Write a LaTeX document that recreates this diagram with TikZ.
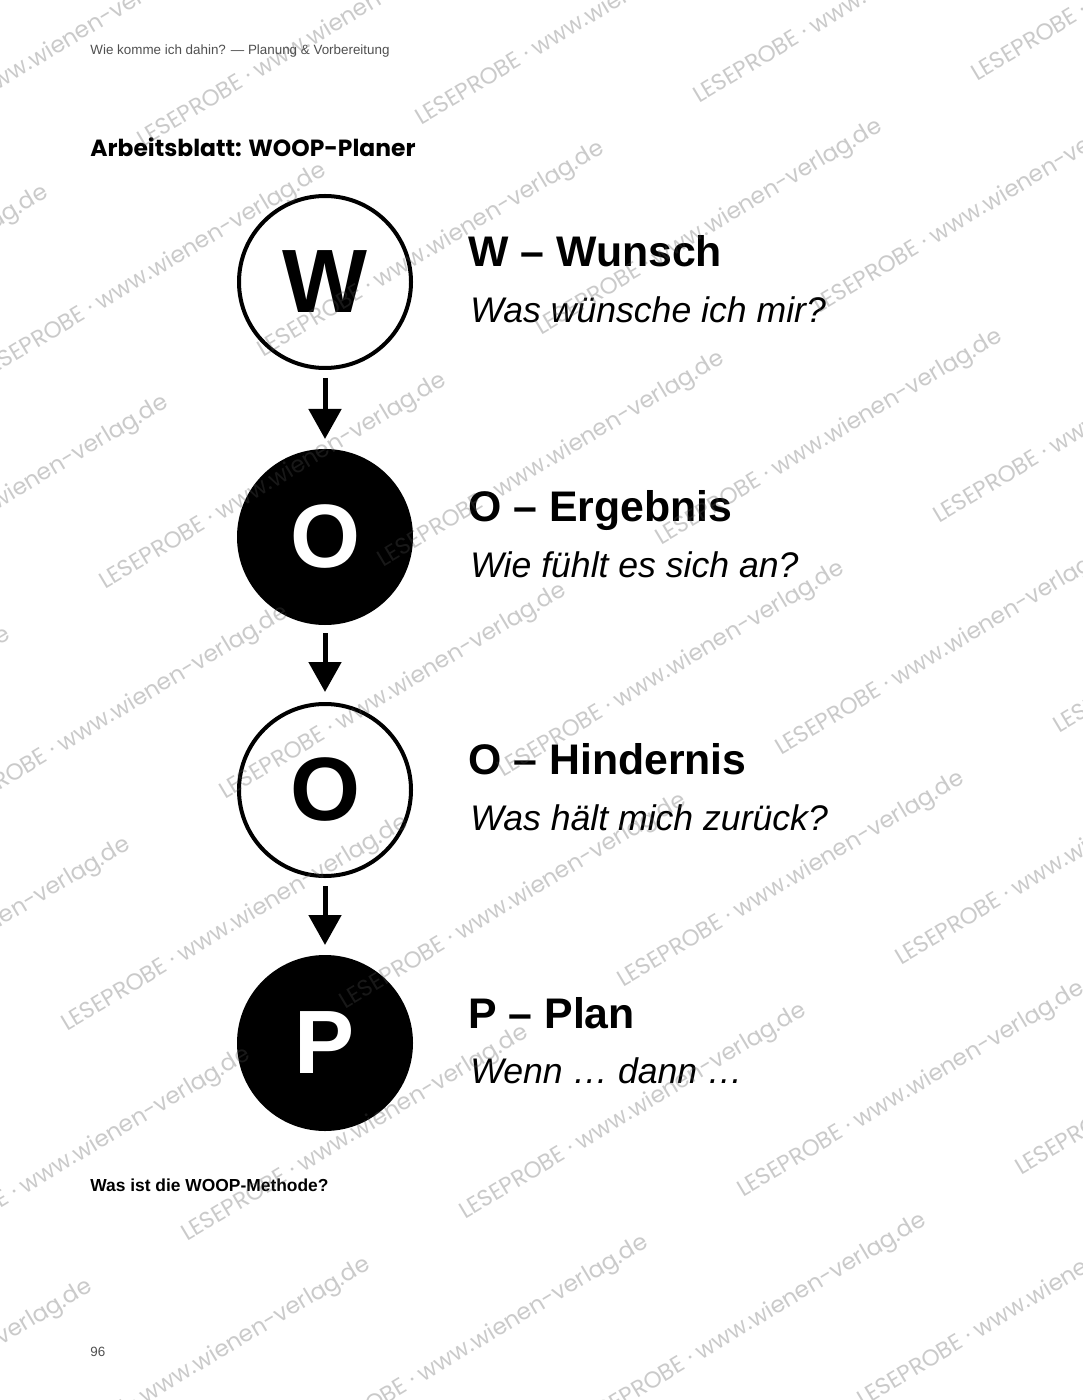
\documentclass[tikz,border=0pt]{standalone}
\usepackage{fontspec}
\setmainfont{Liberation Sans}
\newfontfamily\poppins{Poppins}
\usetikzlibrary{arrows.meta}

\definecolor{wmgray}{HTML}{525252}
\definecolor{headgray}{HTML}{505050}

\tikzset{
    stepcirc/.style={circle, draw=black, line width=2pt, minimum size=86pt, inner sep=0pt,
        font=\fontsize{45}{45}\selectfont\bfseries},
    hollowcirc/.style={stepcirc, text=black},
    filledcirc/.style={stepcirc, fill=black, text=white},
    flow/.style={line width=2.5pt, -{Triangle[length=15pt,width=16pt]}},
    headline/.style={anchor=base west, inner sep=0pt, font=\fontsize{21.4}{24}\selectfont\bfseries},
    subline/.style={anchor=base west, inner sep=0pt, font=\fontsize{17.8}{20}\selectfont\itshape},
    wmark/.style={anchor=base west, inner sep=0pt, rotate=31, text=wmgray, text opacity=0.3,
        font=\poppins\fontsize{11.5}{12}\selectfont}
}

\begin{document}
\begin{tikzpicture}[x=0.5pt, y=-0.5pt]
    \useasboundingbox (0,0) rectangle (1082,1400);
    \fill[white] (0,0) rectangle (1082,1400);

    % page text
    \node[anchor=base west, inner sep=0pt, text=headgray, font=\fontsize{6.7}{8}\selectfont] (header) at (90,55) {Wie komme ich dahin? — Planung \& Vorbereitung};
    \node[anchor=base west, inner sep=0pt, font=\poppins\fontsize{11.7}{13}\selectfont\bfseries] (title) at (90,157) {Arbeitsblatt: WOOP-Planer};

    % circles
    \node[hollowcirc] (w) at (325,282) {W};
    \node[filledcirc] (o1) at (325,537) {O};
    \node[hollowcirc] (o2) at (325,790) {O};
    \node[filledcirc] (p) at (325,1043) {P};

    \foreach \a/\b in {w/o1, o1/o2, o2/p}
        \draw[flow] ([yshift=-4pt]\a.south) -- ([yshift=5pt]\b.north);

    % labels
    \node[headline] (wt) at (468,267) {W – Wunsch};
    \node[subline] (ws) at (470,323) {Was wünsche ich mir?};
    \node[headline] (o1t) at (468,521) {O – Ergebnis};
    \node[subline] (o1s) at (470,577) {Wie fühlt es sich an?};
    \node[headline] (o2t) at (468,774) {O – Hindernis};
    \node[subline] (o2s) at (470,830) {Was hält mich zurück?};
    \node[headline] (pt) at (468,1028) {P – Plan};
    \node[subline] (ps) at (470,1083) {Wenn … dann …};

    \node[anchor=base west, inner sep=0pt, font=\fontsize{8.7}{10}\selectfont\bfseries] (question) at (90,1191) {Was ist die WOOP-Methode?};
    \node[anchor=base west, inner sep=0pt, text=headgray, font=\fontsize{6.7}{8}\selectfont] (pagenum) at (90,1356) {96};

    % watermark
    \begin{scope}
        \clip (0,0) rectangle (1082,1400);
        \foreach \i in {-4,...,4}
            \foreach \k in {-2,...,5}
                \node[wmark] (wm\i\k) at ({105+278*\i+120*\k}, {590-22*\i+210*\k}) {LESEPROBE · www.wienen-verlag.de};
    \end{scope}
\end{tikzpicture}
\end{document}
